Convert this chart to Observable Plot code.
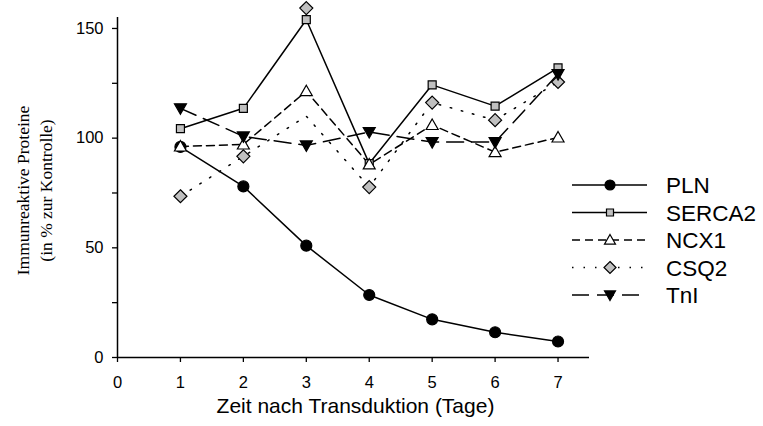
<!DOCTYPE html>
<html><head><meta charset="utf-8">
<script src="https://cdn.jsdelivr.net/npm/d3@7"></script>
<script src="https://cdn.jsdelivr.net/npm/@observablehq/plot@0.6"></script>
<style>html,body{margin:0;padding:0;background:#fff;}</style>
</head><body><div id="chart"></div>
<script>
// ---- data ----
const days = [1, 2, 3, 4, 5, 6, 7];
const pln = [96, 78, 51, 28.5, 17.4, 11.5, 7.3];
const serca2 = [104.3, 113.6, 154, 88.4, 124.3, 114.6, 132];
const ncx1 = [96.2, 97.1, 121.4, 88, 106, 93.6, 100.3];
const csq2 = [73.5, 91.7, 159.3, 77.7, 116.2, 108.2, 125.6];
const csq2Line = [73.5, 91.7, 110, 77.7, 116.2, 108.2, 125.6];
const tni = [113.6, 100.8, 96.7, 102.8, 98.2, 98.2, 129.2];
const seriesNames = ["PLN", "SERCA2", "NCX1", "CSQ2", "TnI"];
const xTicks = [0, 1, 2, 3, 4, 5, 6, 7];
const yTicks = [0, 50, 100, 150];
const yMinorTicks = [25, 75, 125];
const xLabel = "Zeit nach Transduktion (Tage)";
const yLabel = ["Immunreaktive Proteine", "(in % zur Kontrolle)"];

// ---- symbols ----
function sym(path) { return {draw(c, size) { const r = Math.sqrt(size / Math.PI); path(c, r); }}; }
const circleSym = sym((c, r) => { c.moveTo(r, 0); c.arc(0, 0, r, 0, 2 * Math.PI); c.closePath(); });
const squareSym = sym((c, r) => { c.moveTo(-r, -r); c.lineTo(r, -r); c.lineTo(r, r); c.lineTo(-r, r); c.closePath(); });
const triUpSym = sym((c, r) => { c.moveTo(0, -r); c.lineTo(r, 0.75 * r); c.lineTo(-r, 0.75 * r); c.closePath(); });
const triDownSym = sym((c, r) => { c.moveTo(0, r); c.lineTo(r, -0.75 * r); c.lineTo(-r, -0.75 * r); c.closePath(); });
const diamondSym = sym((c, r) => { c.moveTo(0, -r); c.lineTo(r, 0); c.lineTo(0, r); c.lineTo(-r, 0); c.closePath(); });

const grey = "#c0c0c0";
const series = [
  {name: seriesNames[0], values: pln, line: pln, symbol: circleSym, fill: "#000", r: 5.5, lr: 5, dash: null},
  {name: seriesNames[1], values: serca2, line: serca2, symbol: squareSym, fill: grey, r: 4, lr: 3.5, dash: null},
  {name: seriesNames[2], values: ncx1, line: ncx1, symbol: triUpSym, fill: "#fff", r: 6, lr: 5.5, dash: "8,5"},
  {name: seriesNames[3], values: csq2, line: csq2Line, symbol: diamondSym, fill: grey, r: 6.5, lr: 6, dash: "1.5,10"},
  {name: seriesNames[4], values: tni, line: tni, symbol: triDownSym, fill: "#000", r: 6, lr: 5.5, dash: "17,8"}
];

const lineMarks = series.map(s => Plot.line(days.map((d, i) => ({day: d, v: s.line[i]})), {
  x: "day", y: "v", stroke: "#000", strokeWidth: 1.5, strokeDasharray: s.dash
}));
const dotMarks = series.map(s => Plot.dot(days.map((d, i) => ({day: d, v: s.values[i]})), {
  x: "day", y: "v", symbol: () => s.symbol, r: s.r, fill: s.fill, stroke: "#000", strokeWidth: 1.2
}));

const chart = Plot.plot({
  width: 763, height: 426,
  marginLeft: 117, marginRight: 174, marginTop: 17, marginBottom: 69,
  x: {domain: [0, 7.5]},
  y: {domain: [0, 155]},
  style: {fontFamily: "'Liberation Sans', Arial, sans-serif", fontSize: "16px", color: "#000", background: "#fff"},
  marks: [
    Plot.axisX(xTicks, {tickSize: 5, tickPadding: 14, label: null, fontSize: 16.5, strokeWidth: 1.3}),
    Plot.axisY(yTicks, {tickSize: 5, tickPadding: 9, label: null, fontSize: 16.5, strokeWidth: 1.3}),
    Plot.axisY(yMinorTicks, {tickSize: 5, tickFormat: () => "", label: null, strokeWidth: 1.3}),
    Plot.ruleX([0], {strokeWidth: 1.5}),
    Plot.ruleY([0], {strokeWidth: 1.5}),
    ...lineMarks,
    ...dotMarks,
    Plot.text([xLabel], {frameAnchor: "bottom", dy: 55, dx: 2, fontSize: 21}),
    Plot.text([yLabel.join("\n")], {frameAnchor: "left", textAnchor: "middle", rotate: -90, dx: -84, dy: 3, lineHeight: 1.3,
      fontFamily: "'Liberation Serif', 'Times New Roman', serif", fontSize: 17.5})
  ]
});
document.getElementById("chart").appendChild(chart);

// ---- legend (inside the same SVG, right margin) ----
const svg = d3.select(chart);
const lg = svg.append("g").attr("transform", "translate(572,185)");
series.forEach((s, i) => {
  const g = lg.append("g").attr("transform", `translate(0,${i * 27.5})`);
  g.append("line").attr("x1", 0).attr("x2", 75).attr("y1", 0).attr("y2", 0)
    .attr("stroke", "#000").attr("stroke-width", 1.5)
    .attr("stroke-dasharray", s.dash);
  g.append("path").attr("transform", "translate(38,0)")
    .attr("d", d3.symbol().type(s.symbol).size(Math.PI * s.lr * s.lr)())
    .attr("fill", s.fill).attr("stroke", "#000").attr("stroke-width", 1.2);
  g.append("text").attr("x", 94).attr("dy", "0.36em").attr("text-anchor", "start")
    .style("font-family", "'Liberation Sans', Arial, sans-serif").style("font-size", "22.5px")
    .attr("fill", "#000").text(s.name);
});
</script>
</body></html>
